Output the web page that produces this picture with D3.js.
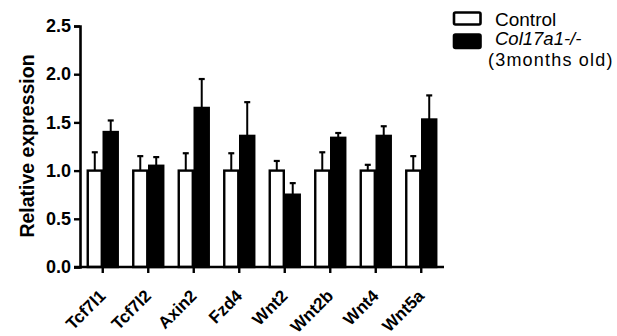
<!DOCTYPE html>
<html>
<head>
<meta charset="utf-8">
<script src="https://cdn.jsdelivr.net/npm/d3@7"></script>
<style>
  body { margin: 0; background: #fff; }
  svg { display: block; font-family: Arial, "Liberation Sans", sans-serif; }
</style>
</head>
<body>
<div id="chart"></div>
<script>
// data
const genes = ["Tcf7l1", "Tcf7l2", "Axin2", "Fzd4", "Wnt2", "Wnt2b", "Wnt4", "Wnt5a"];
const groups = ["Control", "Col17a1-/-"];
const controlMean = [1.0, 1.0, 1.0, 1.0, 1.0, 1.0, 1.0, 1.0];
const controlErr  = [0.19, 0.15, 0.18, 0.18, 0.10, 0.19, 0.06, 0.15];
const koMean = [1.40, 1.05, 1.65, 1.36, 0.75, 1.34, 1.36, 1.53];
const koErr  = [0.12, 0.09, 0.30, 0.35, 0.12, 0.05, 0.10, 0.25];
const yTicks = [0, 0.5, 1.0, 1.5, 2.0, 2.5];

const width = 617, height = 336;
const margin = {left: 80, top: 26, right: 173, bottom: 69};
const FONT = "Arial, 'Liberation Sans', sans-serif";

const svg = d3.select("#chart").append("svg")
  .attr("width", width)
  .attr("height", height);

const x = d3.scaleBand()
  .domain(genes)
  .range([margin.left, width - margin.right]);

const x1 = d3.scaleBand()
  .domain(groups)
  .range([-15, 15])
  .paddingInner(0.12);

const y = d3.scaleLinear()
  .domain([0, 2.5])
  .range([height - margin.bottom, margin.top]);

const rows = genes.map((g, i) => ({
  gene: g,
  bars: [
    {group: groups[0], mean: controlMean[i], err: controlErr[i]},
    {group: groups[1], mean: koMean[i], err: koErr[i]}
  ]
}));

const fillFor = g => g === groups[0] ? "#fff" : "#000";

// bars
const gBars = svg.append("g");
const grp = gBars.selectAll("g.gene")
  .data(rows)
  .join("g")
  .attr("class", "gene")
  .attr("transform", d => `translate(${x(d.gene) + x.bandwidth() / 2},0)`);

// error bars (upper only)
grp.selectAll("g.err")
  .data(d => d.bars)
  .join("g")
  .attr("class", "err")
  .each(function(d) {
    const cx = x1(d.group) + x1.bandwidth() / 2;
    const g = d3.select(this);
    g.append("line")
      .attr("x1", cx).attr("x2", cx)
      .attr("y1", y(d.mean)).attr("y2", y(d.mean + d.err))
      .attr("stroke", "#000").attr("stroke-width", 2);
    g.append("line")
      .attr("x1", cx - 3).attr("x2", cx + 3)
      .attr("y1", y(d.mean + d.err)).attr("y2", y(d.mean + d.err))
      .attr("stroke", "#000").attr("stroke-width", 2.2);
  });

grp.selectAll("rect")
  .data(d => d.bars)
  .join("rect")
  .attr("x", d => x1(d.group))
  .attr("width", x1.bandwidth())
  .attr("y", d => y(d.mean))
  .attr("height", d => y(0) - y(d.mean))
  .attr("fill", d => fillFor(d.group))
  .attr("stroke", "#000")
  .attr("stroke-width", 2.4);

// axes
const yAxis = svg.append("g")
  .attr("transform", `translate(${margin.left},0)`)
  .call(d3.axisLeft(y).tickValues(yTicks).tickFormat(d3.format(".1f")).tickSize(6).tickPadding(3));
yAxis.select(".domain").attr("stroke-width", 2.6);
yAxis.selectAll(".tick line").attr("stroke-width", 2.4);
yAxis.selectAll("text")
  .style("font-size", "18px")
  .style("font-weight", "bold")
  .style("font-family", FONT)
  .attr("fill", "#000");

const xAxis = svg.append("g")
  .attr("transform", `translate(0,${y(0)})`)
  .call(d3.axisBottom(x).tickSizeOuter(0).tickSize(6));
xAxis.select(".domain").attr("stroke-width", 2.6)
  .attr("d", `M${margin.left - 6},0H${width - margin.right}`);
xAxis.selectAll(".tick line").attr("stroke-width", 2.4);
xAxis.selectAll("text")
  .style("font-size", "17px")
  .style("font-weight", "bold")
  .style("font-family", FONT)
  .attr("fill", "#000")
  .attr("text-anchor", "end")
  .attr("y", 0)
  .attr("dy", 0)
  .attr("transform", "translate(4,30) rotate(-45)");

// y title
svg.append("text")
  .attr("transform", `translate(34,146) rotate(-90)`)
  .attr("text-anchor", "middle")
  .style("font-size", "19.5px")
  .style("font-weight", "bold")
  .text("Relative expression");

// legend
const legend = svg.append("g").attr("transform", "translate(454,0)");
legend.selectAll("rect")
  .data(groups)
  .join("rect")
  .attr("x", 0)
  .attr("y", (d, i) => i === 0 ? 12.5 : 34.5)
  .attr("width", 26.5)
  .attr("height", (d, i) => i === 0 ? 12 : 13.5)
  .attr("rx", 1.5)
  .attr("fill", d => fillFor(d))
  .attr("stroke", "#000")
  .attr("stroke-width", 2.6);

legend.append("text")
  .attr("x", 41).attr("y", 26)
  .style("font-size", "19px")
  .text("Control");

legend.append("text")
  .attr("x", 41).attr("y", 45)
  .style("font-size", "18.5px")
  .style("font-style", "italic")
  .text("Col17a1-/-");
legend.append("text")
  .attr("x", 34).attr("y", 65.5)
  .style("font-size", "18px")
  .style("letter-spacing", "1.2px")
  .text("(3months old)");
</script>
</body>
</html>
